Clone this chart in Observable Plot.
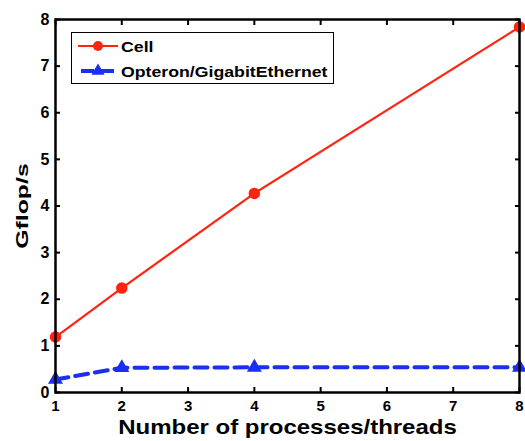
<!DOCTYPE html>
<html>
<head>
<meta charset="utf-8">
<script src="https://cdn.jsdelivr.net/npm/d3@7"></script>
<script src="https://cdn.jsdelivr.net/npm/@observablehq/plot@0.6"></script>
<style>
  html, body { margin: 0; padding: 0; background: #fff; }
  #wrap { position: relative; width: 525px; height: 441px; font-family: "Liberation Sans", Arial, sans-serif; }
  #legend { position: absolute; left: 71px; top: 32px; width: 261px; height: 50px; border: 1px solid #000; background: #fff; font-weight: bold; font-size: 15px; }
  .row { position: absolute; left: 5px; height: 20px; display: flex; align-items: center; white-space: nowrap; }
  .row span { margin-left: 2px; display: inline-block; transform: scaleX(1.18); transform-origin: left center; }
</style>
</head>
<body>
<div id="wrap"></div>
<script>
const threads = [1, 2, 4, 8];
const cellGflops = [1.19, 2.24, 4.27, 7.84];
const opteronGflops = [0.28, 0.53, 0.54, 0.54];
const seriesNames = ["Cell", "Opteron/GigabitEthernet"];
const xTicks = [1, 2, 3, 4, 5, 6, 7, 8];
const yTicks = [0, 1, 2, 3, 4, 5, 6, 7, 8];
const xLabel = "Number of processes/threads";
const yLabel = "Gflop/s";

const red = "#ff2311";
const blue = "#1a2ff0";

const cell = threads.map((t, i) => ({x: t, y: cellGflops[i]}));
const opt = threads.map((t, i) => ({x: t, y: opteronGflops[i]}));

const font = "Liberation Sans, Arial, sans-serif";

const chart = Plot.plot({
  width: 525,
  height: 441,
  marginLeft: 55,
  marginRight: 6,
  marginTop: 19,
  marginBottom: 49,
  style: {fontFamily: font, fontSize: "15px", fontWeight: "bold", color: "#000", background: "#fff"},
  x: {domain: [1, 8]},
  y: {domain: [0, 8]},
  marks: [
    Plot.axisX({ticks: xTicks, tickFormat: "d", tickSize: -5, tickPadding: 13, strokeWidth: 2, label: null, anchor: "bottom", fontSize: 15}),
    Plot.axisX({ticks: xTicks, tickSize: -5, tickFormat: () => "", strokeWidth: 2, label: null, anchor: "top"}),
    Plot.axisY({ticks: yTicks, tickFormat: "d", tickSize: -5, tickPadding: 11, strokeWidth: 2, label: null, anchor: "left", fontSize: 16}),
    Plot.axisY({ticks: yTicks, tickSize: -5, tickFormat: () => "", strokeWidth: 2, label: null, anchor: "right"}),
    Plot.line(opt, {x: "x", y: "y", stroke: blue, strokeWidth: 4, strokeDasharray: "13,7"}),
    Plot.dot(opt, {x: "x", y: "y", symbol: "triangle", r: 4.6, fill: blue, stroke: blue}),
    Plot.line(cell, {x: "x", y: "y", stroke: red, strokeWidth: 2.2}),
    Plot.dot(cell, {x: "x", y: "y", r: 5, fill: red, stroke: red}),
    Plot.frame({stroke: "#000", strokeWidth: 2.5}),
    Plot.text([xLabel], {frameAnchor: "bottom", dy: 41, fontSize: 20, fontWeight: "bold", fill: "#000"}),
    Plot.text([yLabel], {frameAnchor: "left", textAnchor: "middle", dx: -33, rotate: -90, fontSize: 16, fontWeight: "bold", fill: "#000"})
  ]
});
document.getElementById("wrap").appendChild(chart);

// stretch a text label around its own centre, in the SVG's coordinates
function stretchAround(textEl, sx, sy) {
  const svgRect = chart.getBoundingClientRect();
  const r = textEl.getBoundingClientRect();
  const cx = r.x + r.width / 2 - svgRect.x, cy = r.y + r.height / 2 - svgRect.y;
  let top = textEl;
  while (top.parentNode && top.parentNode !== chart) top = top.parentNode;
  const g = document.createElementNS("http://www.w3.org/2000/svg", "g");
  g.setAttribute("transform", `translate(${cx},${cy}) scale(${sx},${sy}) translate(${-cx},${-cy})`);
  chart.insertBefore(g, top);
  g.appendChild(top);
}
const texts = [];
d3.select(chart).selectAll("text").each(function () { texts.push(this); });
texts.forEach((el) => {
  if (el.textContent === xLabel) stretchAround(el, 1.2, 1);
  else if (el.textContent === yLabel) stretchAround(el, 1, 1.55);
});

// legend
const legend = document.createElement("div");
legend.id = "legend";
const colors = [red, blue];
seriesNames.forEach((name, i) => {
  const row = document.createElement("div");
  row.className = "row";
  row.style.top = (3 + i * 25) + "px";
  const svg = d3.create("svg").attr("width", 42).attr("height", 20);
  if (i === 0) {
    svg.append("line").attr("x1", 1).attr("x2", 41).attr("y1", 10).attr("y2", 10).attr("stroke", colors[i]).attr("stroke-width", 2.2);
    svg.append("circle").attr("cx", 21).attr("cy", 10).attr("r", 5).attr("fill", colors[i]);
  } else {
    svg.append("line").attr("x1", 4).attr("x2", 41).attr("y1", 10).attr("y2", 10).attr("stroke", colors[i]).attr("stroke-width", 4).attr("stroke-dasharray", "13,7");
    svg.append("path").attr("d", d3.symbol(d3.symbolTriangle, 75)()).attr("transform", "translate(21,10)").attr("fill", colors[i]);
  }
  row.appendChild(svg.node());
  const label = document.createElement("span");
  label.textContent = name;
  row.appendChild(label);
  legend.appendChild(row);
});
document.getElementById("wrap").appendChild(legend);
</script>
</body>
</html>
